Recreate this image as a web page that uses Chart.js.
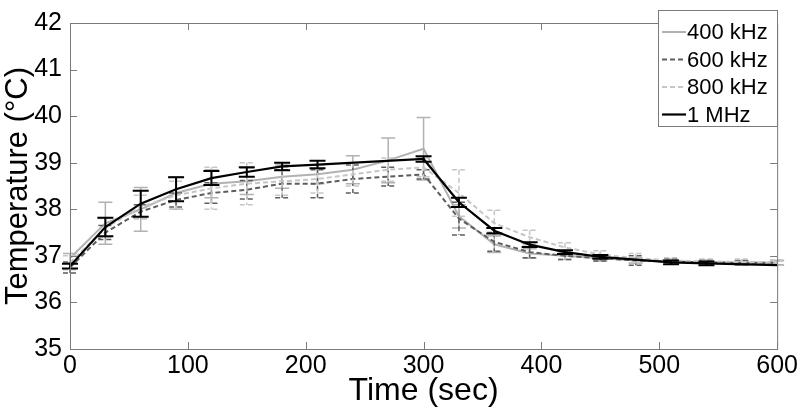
<!DOCTYPE html>
<html>
<head>
<meta charset="utf-8">
<script src="https://cdn.jsdelivr.net/npm/chart.js@4.4.0/dist/chart.umd.min.js"></script>
<style>
html, body { margin: 0; padding: 0; background: #fff; }
#wrap { width: 800px; height: 412px; }
</style>
</head>
<body>
<div id="wrap"><canvas id="myChart"></canvas></div>
<script>
// time points (sec)
const times = [0, 30, 60, 90, 120, 150, 180, 210, 240, 270, 300, 330, 360, 390, 420, 450, 480, 510, 540, 570, 600];

// mean temperatures and error (+/-) per frequency
const t400 = [36.95, 37.7, 38.0, 38.35, 38.55, 38.6, 38.7, 38.75, 38.85, 39.05, 39.3, 37.85, 37.25, 37.05, 37.0, 36.95, 36.9, 36.88, 36.86, 36.85, 36.85];
const e400 = [0.1, 0.45, 0.47, 0.35, 0.3, 0.28, 0.25, 0.2, 0.3, 0.48, 0.67, 0.25, 0.18, 0.1, 0.08, 0.06, 0.06, 0.05, 0.05, 0.05, 0.05];

const t600 = [36.75, 37.5, 37.95, 38.2, 38.35, 38.42, 38.55, 38.55, 38.65, 38.7, 38.75, 37.8, 37.3, 37.08, 37.0, 36.95, 36.9, 36.88, 36.86, 36.85, 36.85];
const e600 = [0.12, 0.15, 0.15, 0.15, 0.22, 0.2, 0.3, 0.3, 0.3, 0.2, 0.1, 0.35, 0.2, 0.12, 0.08, 0.06, 0.1, 0.05, 0.05, 0.05, 0.05];

const t800 = [36.85, 37.6, 38.05, 38.3, 38.45, 38.55, 38.6, 38.65, 38.75, 38.85, 38.9, 38.35, 37.7, 37.4, 37.18, 37.03, 36.95, 36.9, 36.88, 36.87, 36.85];
const e800 = [0.15, 0.2, 0.25, 0.3, 0.45, 0.45, 0.3, 0.3, 0.25, 0.25, 0.2, 0.5, 0.28, 0.15, 0.1, 0.08, 0.1, 0.06, 0.05, 0.06, 0.05];

const t1m = [36.78, 37.62, 38.12, 38.43, 38.67, 38.8, 38.92, 38.96, null, null, 39.08, 38.15, 37.54, 37.24, 37.08, 36.98, null, 36.86, 36.84, null, 36.8];
const e1m = [0.05, 0.2, 0.28, 0.26, 0.15, 0.1, 0.08, 0.08, null, null, 0.06, 0.1, 0.06, 0.05, 0.04, 0.04, null, 0.04, 0.04, null, null];

const yTicks = [35, 36, 37, 38, 39, 40, 41, 42];
const xTicks = [0, 100, 200, 300, 400, 500, 600];

const FONT = "'Liberation Sans', Arial, sans-serif";
const FRAME = '#7a7a7a';

function pts(vals) {
  return times.map((t, i) => ({ x: t, y: vals[i] }));
}

const errorBars = {
  id: 'errorBars',
  afterDatasetDraw(chart, args) {
    const ds = chart.data.datasets[args.index];
    if (!ds.errors) return;
    const { ctx, scales: { x, y } } = chart;
    ctx.save();
    ctx.strokeStyle = ds.borderColor;
    ctx.lineWidth = ds.errWidth || 1.5;
    ctx.setLineDash(ds.borderDash || []);
    ds.data.forEach((p, i) => {
      const e = ds.errors[i];
      if (p.y == null || e == null) return;
      const px = x.getPixelForValue(p.x);
      const top = y.getPixelForValue(p.y + e);
      const bot = y.getPixelForValue(p.y - e);
      const w = ds.capHalf || 7;
      ctx.beginPath();
      ctx.moveTo(px, top); ctx.lineTo(px, bot);
      ctx.moveTo(px - w, top); ctx.lineTo(px + w, top);
      ctx.moveTo(px - w, bot); ctx.lineTo(px + w, bot);
      ctx.stroke();
    });
    ctx.restore();
  }
};

const frame = {
  id: 'frame',
  afterDraw(chart) {
    const { ctx, chartArea: a, scales: { x, y } } = chart;
    ctx.save();
    ctx.strokeStyle = FRAME;
    ctx.lineWidth = 1;
    ctx.setLineDash([]);
    ctx.strokeRect(a.left + 0.5, a.top + 0.5, a.right - a.left, a.bottom - a.top);
    ctx.beginPath();
    xTicks.forEach(v => {
      const px = Math.round(x.getPixelForValue(v)) + 0.5;
      ctx.moveTo(px, a.bottom); ctx.lineTo(px, a.bottom - 7);
      ctx.moveTo(px, a.top); ctx.lineTo(px, a.top + 7);
    });
    yTicks.forEach(v => {
      const py = Math.round(y.getPixelForValue(v)) + 0.5;
      ctx.moveTo(a.left, py); ctx.lineTo(a.left + 7, py);
      ctx.moveTo(a.right, py); ctx.lineTo(a.right - 7, py);
    });
    ctx.stroke();

    // legend box
    const lx = 658, ly = 10, lw = 119, lh = 116;
    ctx.fillStyle = '#fff';
    ctx.fillRect(lx, ly, lw, lh);
    ctx.strokeRect(lx + 0.5, ly + 0.5, lw, lh);
    ctx.font = '22px ' + FONT;
    ctx.textBaseline = 'middle';
    ctx.textAlign = 'left';
    chart.data.datasets.forEach((ds, i) => {
      const yy = 32 + i * 27.5;
      ctx.strokeStyle = ds.borderColor;
      ctx.lineWidth = ds.borderWidth;
      ctx.setLineDash(ds.borderDash || []);
      ctx.beginPath();
      ctx.moveTo(662, yy); ctx.lineTo(686, yy);
      ctx.stroke();
      ctx.fillStyle = '#000';
      ctx.fillText(ds.label, 687, yy + 1);
    });
    ctx.restore();
  }
};

new Chart(document.getElementById('myChart'), {
  type: 'line',
  data: {
    datasets: [
      { label: '400 kHz', data: pts(t400), errors: e400, borderColor: '#b2b2b2', borderWidth: 2, order: 3 },
      { label: '600 kHz', data: pts(t600), errors: e600, borderColor: '#5e5e5e', borderWidth: 2, borderDash: [5, 3], order: 2 },
      { label: '800 kHz', data: pts(t800), errors: e800, borderColor: '#c6c6c6', borderWidth: 2, borderDash: [5, 3], order: 1 },
      { label: '1 MHz', data: pts(t1m), errors: e1m, borderColor: '#000000', borderWidth: 2.2, errWidth: 2, capHalf: 8, order: 0 }
    ]
  },
  options: {
    responsive: true,
    maintainAspectRatio: false,
    animation: false,
    spanGaps: true,
    elements: { point: { radius: 0 }, line: { tension: 0 } },
    layout: { padding: { left: 0, right: 22, top: 13, bottom: 0 } },
    plugins: { legend: { display: false }, tooltip: { enabled: false } },
    scales: {
      x: {
        type: 'linear', min: 0, max: 600,
        afterBuildTicks(s) { s.ticks = xTicks.map(v => ({ value: v })); },
        ticks: { color: '#000', font: { family: FONT, size: 25 }, padding: 2, maxRotation: 0 },
        grid: { display: false, drawTicks: false },
        border: { display: false },
        title: { display: true, text: 'Time (sec)', color: '#000', font: { family: FONT, size: 32, lineHeight: 1.2 }, padding: { top: 0, bottom: 2 } },
        afterFit(s) { s.height = 63; }
      },
      y: {
        type: 'linear', min: 35, max: 42,
        afterBuildTicks(s) { s.ticks = yTicks.map(v => ({ value: v })); },
        ticks: { color: '#000', font: { family: FONT, size: 25 }, padding: 8 },
        grid: { display: false, drawTicks: false },
        border: { display: false },
        title: { display: true, text: 'Temperature (°C)', color: '#000', font: { family: FONT, size: 31, lineHeight: 1.2 }, padding: { top: 0, bottom: 0 } },
        afterFit(s) { s.width = 70; }
      }
    }
  },
  plugins: [errorBars, frame]
});
</script>
</body>
</html>
